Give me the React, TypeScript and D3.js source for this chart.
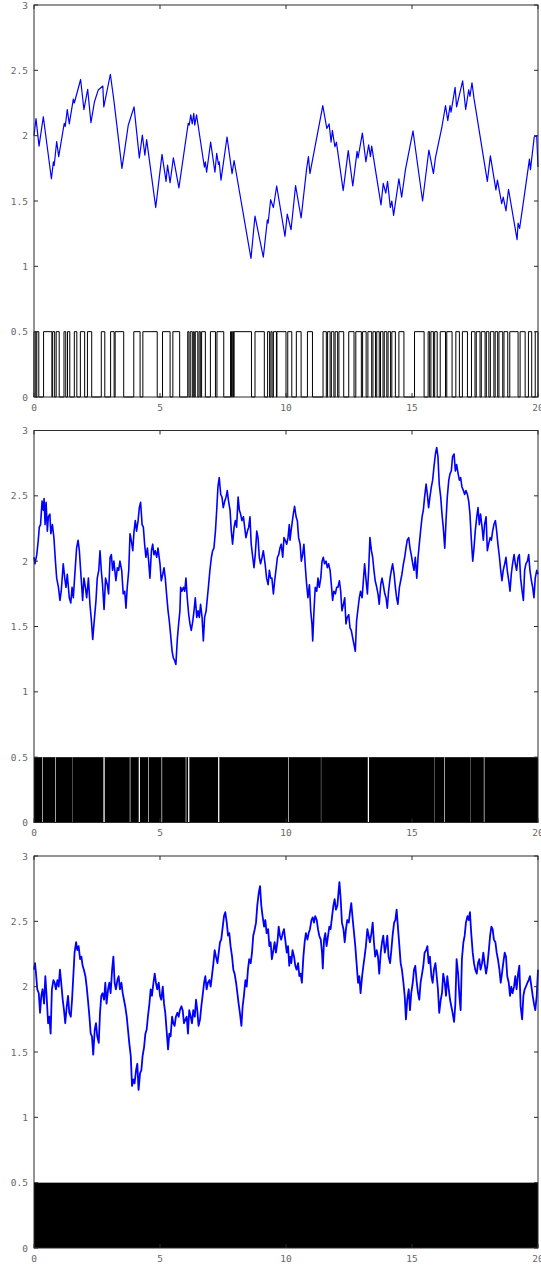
import React from 'react';
import * as d3 from 'd3';

// axis ticks shared by the three panels
const X_TICKS = [0, 5, 10, 15, 20];
const Y_TICKS = [0, 0.5, 1, 1.5, 2, 2.5, 3];

// panel 1: slow walk (turning points)
const walk1: [number, number][] = [
  [0, 2.0], [0.08, 2.13], [0.2, 1.92], [0.37, 2.145], [0.69, 1.67], [0.77, 1.8], [0.8, 1.77], [0.9, 1.955],
  [0.98, 1.84], [1.2, 2.095], [1.24, 2.07], [1.32, 2.2], [1.4, 2.09], [1.56, 2.28], [1.6, 2.25], [1.85, 2.43],
  [1.98, 2.2], [2.13, 2.355], [2.26, 2.1], [2.4, 2.26], [2.55, 2.35], [2.73, 2.38], [2.77, 2.22], [3.03, 2.47],
  [3.17, 2.27], [3.49, 1.75], [3.59, 1.88], [3.74, 2.08], [3.97, 2.22], [4.18, 1.83], [4.3, 2.005], [4.4, 1.85],
  [4.47, 1.97], [4.83, 1.45], [5.08, 1.857], [5.24, 1.65], [5.3, 1.775], [5.4, 1.64], [5.53, 1.83], [5.58, 1.78],
  [5.75, 1.6], [6.12, 2.095], [6.16, 2.08], [6.22, 2.16], [6.28, 2.09], [6.34, 2.17], [6.38, 2.08], [6.45, 2.16],
  [6.76, 1.76], [6.8, 1.8], [6.85, 1.72], [7.01, 1.95], [7.18, 1.72], [7.25, 1.865], [7.32, 1.78], [7.35, 1.8],
  [7.42, 1.66], [7.66, 1.99], [7.86, 1.71], [7.94, 1.81], [8.61, 1.06], [8.77, 1.385], [9.1, 1.07], [9.26, 1.355],
  [9.29, 1.33], [9.39, 1.51], [9.5, 1.45], [9.63, 1.615], [9.96, 1.23], [10.05, 1.4], [10.2, 1.28], [10.38, 1.617],
  [10.6, 1.37], [10.82, 1.75], [10.89, 1.84], [10.95, 1.71], [11.46, 2.23], [11.62, 2.055], [11.71, 2.09],
  [11.79, 1.95], [11.84, 2.04], [11.94, 1.915], [12.0, 1.95], [12.27, 1.58], [12.47, 1.885], [12.65, 1.615],
  [12.82, 1.88], [12.86, 1.83], [13.03, 2.02], [13.17, 1.8], [13.28, 1.93], [13.35, 1.84], [13.4, 1.92],
  [13.77, 1.47], [13.86, 1.635], [13.96, 1.56], [14.03, 1.65], [14.14, 1.45], [14.2, 1.5], [14.27, 1.39],
  [14.48, 1.67], [14.59, 1.53], [14.74, 1.74], [15.04, 2.036], [15.42, 1.5], [15.67, 1.89], [15.85, 1.71],
  [15.93, 1.83], [16.19, 2.07], [16.33, 2.23], [16.42, 2.115], [16.51, 2.23], [16.55, 2.18], [16.71, 2.37],
  [16.77, 2.22], [17.01, 2.42], [17.13, 2.2], [17.25, 2.35], [17.3, 2.3], [17.38, 2.405], [17.46, 2.285],
  [17.99, 1.65], [18.11, 1.845], [18.33, 1.585], [18.39, 1.66], [18.56, 1.48], [18.62, 1.53], [18.73, 1.425],
  [18.83, 1.59], [19.17, 1.205], [19.21, 1.33], [19.27, 1.29], [19.46, 1.545], [19.66, 1.82], [19.7, 1.74],
  [19.85, 1.99], [19.95, 2.0], [20, 1.76],
];

// panel 1: intervals where the two-state signal sits at 0.5
const high1: [number, number][] = [
  [0, 0.07], [0.11, 0.19], [0.38, 0.71], [0.74, 0.82], [0.88, 1.0], [1.19, 1.26], [1.33, 1.42], [1.6, 1.7],
  [1.84, 2.01], [2.12, 2.29], [2.67, 2.81], [3.04, 3.18], [3.22, 3.56], [3.96, 4.21], [4.32, 4.89], [5.1, 5.4],
  [5.51, 5.78], [6.1, 6.15], [6.2, 6.28], [6.32, 6.36], [6.4, 6.5], [6.55, 6.6], [6.65, 6.8], [7.0, 7.2],
  [7.26, 7.53], [7.8, 7.84], [7.87, 7.92], [7.94, 8.63], [8.77, 9.14], [9.27, 9.35], [9.4, 9.45], [9.5, 9.62],
  [9.64, 10.0], [10.07, 10.23], [10.41, 10.6], [10.85, 11.05], [11.47, 11.6], [11.65, 11.75], [11.8, 11.9],
  [11.95, 12.05], [12.1, 12.29], [12.49, 12.7], [12.77, 12.99], [13.04, 13.18], [13.25, 13.4], [13.45, 13.55],
  [13.6, 13.7], [13.75, 13.85], [13.9, 14.0], [14.05, 14.15], [14.2, 14.34], [14.48, 14.68], [15.1, 15.48],
  [15.64, 15.7], [15.75, 15.85], [15.9, 16.0], [16.12, 16.33], [16.38, 16.59], [16.74, 16.88], [17.0, 17.2],
  [17.36, 17.5], [17.55, 17.7], [17.75, 17.9], [17.95, 18.05], [18.11, 18.25], [18.3, 18.4], [18.45, 18.6],
  [18.65, 18.8], [18.88, 19.21], [19.29, 19.49], [19.62, 19.75], [19.89, 20],
];

// panel 2: faster walk
const walk2: [number, number][] = [
  [0, 2.03], [0.04, 1.98], [0.11, 2.05], [0.17, 2.16], [0.21, 2.26], [0.26, 2.28], [0.32, 2.46], [0.37, 2.39],
  [0.4, 2.48], [0.44, 2.28], [0.48, 2.45], [0.53, 2.23], [0.57, 2.34], [0.63, 2.36], [0.67, 2.21], [0.73, 2.28],
  [0.79, 2.18], [0.85, 2.0], [0.9, 1.87], [0.97, 1.8], [1.03, 1.7], [1.08, 1.77], [1.16, 1.98], [1.22, 1.87],
  [1.27, 1.8], [1.32, 1.9], [1.4, 1.72], [1.46, 1.68], [1.51, 1.8], [1.56, 1.72], [1.61, 1.87], [1.69, 2.1],
  [1.75, 2.16], [1.8, 2.08], [1.85, 1.93], [1.93, 1.7], [1.98, 1.87], [2.04, 1.8], [2.09, 1.72], [2.16, 1.87],
  [2.22, 1.67], [2.28, 1.54], [2.33, 1.4], [2.38, 1.52], [2.46, 1.7], [2.51, 1.87], [2.57, 1.93], [2.62, 2.08],
  [2.67, 1.93], [2.72, 1.82], [2.78, 1.63], [2.84, 1.87], [2.91, 1.82], [2.96, 1.75], [3.02, 2.03], [3.07, 2.05],
  [3.12, 1.93], [3.17, 2.0], [3.25, 1.85], [3.31, 1.95], [3.36, 1.93], [3.41, 2.0], [3.48, 1.93], [3.54, 1.75],
  [3.6, 1.77], [3.65, 1.64], [3.7, 1.8], [3.76, 1.93], [3.81, 2.21], [3.86, 2.16], [3.92, 2.08], [3.97, 2.23],
  [4.02, 2.31], [4.07, 2.23], [4.13, 2.31], [4.18, 2.41], [4.23, 2.45], [4.29, 2.28], [4.34, 2.26], [4.39, 2.13],
  [4.44, 2.03], [4.5, 2.1], [4.55, 2.0], [4.6, 1.87], [4.66, 2.08], [4.71, 2.13], [4.76, 2.05], [4.81, 2.08],
  [4.87, 2.03], [4.92, 2.1], [5.0, 1.98], [5.05, 1.85], [5.11, 1.9], [5.16, 1.95], [5.21, 1.87], [5.26, 1.75],
  [5.32, 1.62], [5.37, 1.54], [5.42, 1.44], [5.48, 1.31], [5.53, 1.26], [5.58, 1.24], [5.63, 1.21], [5.69, 1.41],
  [5.74, 1.52], [5.79, 1.62], [5.82, 1.8], [5.87, 1.77], [5.93, 1.8], [5.98, 1.77], [6.03, 1.87], [6.08, 1.72],
  [6.14, 1.59], [6.19, 1.52], [6.24, 1.47], [6.3, 1.54], [6.35, 1.62], [6.4, 1.72], [6.46, 1.57], [6.51, 1.62],
  [6.56, 1.57], [6.61, 1.67], [6.67, 1.57], [6.72, 1.39], [6.77, 1.57], [6.83, 1.62], [6.88, 1.72], [6.93, 1.82],
  [6.98, 1.93], [7.04, 2.03], [7.09, 2.08], [7.14, 2.1], [7.2, 2.23], [7.25, 2.39], [7.3, 2.57], [7.35, 2.64],
  [7.41, 2.51], [7.46, 2.49], [7.51, 2.41], [7.57, 2.46], [7.62, 2.49], [7.67, 2.54], [7.72, 2.46], [7.78, 2.39],
  [7.83, 2.23], [7.88, 2.13], [7.94, 2.26], [7.99, 2.31], [8.04, 2.26], [8.1, 2.49], [8.15, 2.39], [8.2, 2.36],
  [8.25, 2.31], [8.31, 2.34], [8.36, 2.26], [8.41, 2.18], [8.47, 2.23], [8.52, 2.26], [8.57, 2.34], [8.62, 2.13],
  [8.68, 2.03], [8.73, 1.95], [8.78, 2.05], [8.84, 2.23], [8.89, 2.18], [8.94, 2.03], [8.99, 1.98], [9.05, 2.03],
  [9.1, 2.08], [9.17, 1.98], [9.23, 1.87], [9.29, 1.82], [9.34, 1.93], [9.39, 1.87], [9.44, 1.87], [9.5, 1.75],
  [9.55, 1.85], [9.6, 1.93], [9.66, 2.03], [9.71, 2.05], [9.76, 2.1], [9.81, 2.13], [9.87, 2.03], [9.92, 2.18],
  [9.97, 2.16], [10.03, 2.13], [10.08, 2.18], [10.13, 2.28], [10.16, 2.16], [10.22, 2.26], [10.29, 2.36],
  [10.34, 2.42], [10.4, 2.34], [10.45, 2.31], [10.5, 2.18], [10.56, 2.13], [10.61, 2.0], [10.66, 2.05],
  [10.71, 2.13], [10.77, 1.95], [10.82, 1.82], [10.87, 1.72], [10.93, 1.82], [10.98, 1.62], [11.03, 1.52],
  [11.06, 1.39], [11.11, 1.62], [11.16, 1.8], [11.22, 1.77], [11.27, 1.87], [11.32, 1.8], [11.38, 1.87],
  [11.43, 2.0], [11.48, 2.03], [11.53, 1.98], [11.59, 2.0], [11.64, 1.95], [11.69, 1.98], [11.75, 1.93],
  [11.8, 1.82], [11.85, 1.7], [11.9, 1.77], [11.96, 1.75], [12.01, 1.8], [12.06, 1.8], [12.12, 1.85],
  [12.17, 1.77], [12.22, 1.62], [12.28, 1.67], [12.33, 1.72], [12.38, 1.52], [12.43, 1.57], [12.49, 1.59],
  [12.54, 1.49], [12.59, 1.47], [12.65, 1.41], [12.7, 1.36], [12.75, 1.31], [12.8, 1.54], [12.86, 1.64],
  [12.91, 1.72], [12.96, 1.77], [13.02, 1.72], [13.07, 1.85], [13.12, 1.98], [13.17, 1.87], [13.23, 1.75],
  [13.28, 1.93], [13.33, 2.18], [13.39, 2.08], [13.44, 2.03], [13.49, 1.93], [13.54, 1.85], [13.6, 1.8],
  [13.65, 1.75], [13.7, 1.67], [13.76, 1.82], [13.81, 1.87], [13.86, 1.82], [13.92, 1.75], [13.97, 1.72],
  [14.02, 1.64], [14.07, 1.77], [14.13, 1.87], [14.18, 1.93], [14.23, 1.98], [14.29, 1.9], [14.34, 1.8],
  [14.39, 1.72], [14.44, 1.67], [14.5, 1.8], [14.55, 1.85], [14.6, 1.9], [14.66, 1.98], [14.71, 2.03],
  [14.76, 2.1], [14.81, 2.16], [14.87, 2.18], [14.92, 2.1], [14.97, 2.05], [15.03, 1.98], [15.08, 1.93],
  [15.13, 2.03], [15.19, 1.87], [15.24, 2.03], [15.29, 2.13], [15.34, 2.23], [15.4, 2.34], [15.45, 2.39],
  [15.5, 2.49], [15.56, 2.59], [15.61, 2.51], [15.66, 2.41], [15.71, 2.49], [15.77, 2.57], [15.82, 2.62],
  [15.87, 2.72], [15.93, 2.82], [15.98, 2.87], [16.03, 2.8], [16.08, 2.59], [16.14, 2.49], [16.19, 2.36],
  [16.24, 2.26], [16.3, 2.1], [16.35, 2.31], [16.4, 2.49], [16.46, 2.62], [16.51, 2.67], [16.56, 2.69],
  [16.61, 2.8], [16.67, 2.82], [16.72, 2.69], [16.77, 2.74], [16.83, 2.67], [16.88, 2.62], [16.93, 2.64],
  [16.98, 2.57], [17.04, 2.54], [17.09, 2.51], [17.14, 2.54], [17.2, 2.51], [17.25, 2.46], [17.3, 2.36],
  [17.35, 2.18], [17.41, 2.0], [17.46, 2.1], [17.51, 2.23], [17.57, 2.34], [17.62, 2.41], [17.67, 2.28],
  [17.72, 2.36], [17.78, 2.26], [17.83, 2.16], [17.88, 2.28], [17.94, 2.34], [17.99, 2.08], [18.04, 2.13],
  [18.1, 2.18], [18.15, 2.16], [18.2, 2.23], [18.25, 2.28], [18.31, 2.31], [18.36, 2.23], [18.41, 2.13],
  [18.47, 2.03], [18.52, 1.93], [18.57, 1.85], [18.62, 1.93], [18.68, 1.98], [18.73, 2.03], [18.78, 1.93],
  [18.84, 1.85], [18.89, 1.77], [18.94, 1.9], [18.99, 1.98], [19.05, 2.05], [19.1, 1.98], [19.15, 1.93],
  [19.21, 2.03], [19.26, 2.05], [19.31, 1.87], [19.37, 1.77], [19.42, 1.7], [19.47, 1.93], [19.52, 1.98],
  [19.58, 2.0], [19.63, 2.05], [19.68, 1.93], [19.74, 1.85], [19.79, 1.8], [19.84, 1.72], [19.89, 1.87],
  [19.95, 1.93], [20, 1.9],
];

// panel 2: the signal switches too fast to resolve, except in these short holds
const gaps2: [number, number][] = [
  [0.33, 0.355], [0.84, 0.865], [1.535, 1.547], [2.755, 2.805], [3.8, 3.825], [4.155, 4.205], [4.53, 4.555],
  [5.06, 5.085], [6.02, 6.045], [6.115, 6.165], [7.305, 7.355], [10.08, 10.105], [11.385, 11.397],
  [13.245, 13.295], [15.885, 15.897], [16.27, 16.295], [17.325, 17.337], [17.85, 17.875],
];

// panel 3: fastest walk
const walk3: [number, number][] = [
  [0, 2.13], [0.04, 2.18], [0.08, 2.1], [0.13, 1.98], [0.19, 1.95], [0.24, 1.8], [0.29, 1.93], [0.34, 1.98],
  [0.4, 1.87], [0.45, 2.08], [0.5, 1.93], [0.56, 1.72], [0.61, 1.77], [0.66, 1.64], [0.71, 1.98], [0.77, 2.05],
  [0.82, 2.03], [0.87, 1.98], [0.93, 2.05], [0.98, 2.0], [1.03, 2.13], [1.08, 2.03], [1.14, 1.9], [1.19, 1.82],
  [1.24, 1.72], [1.3, 1.85], [1.35, 1.93], [1.4, 1.8], [1.46, 1.77], [1.51, 1.9], [1.56, 2.08], [1.61, 2.26],
  [1.67, 2.34], [1.72, 2.28], [1.77, 2.31], [1.83, 2.21], [1.88, 2.23], [1.93, 2.16], [1.98, 2.13], [2.04, 2.08],
  [2.09, 2.0], [2.14, 1.9], [2.2, 1.77], [2.25, 1.64], [2.3, 1.62], [2.35, 1.48], [2.41, 1.67], [2.46, 1.72],
  [2.51, 1.62], [2.57, 1.57], [2.62, 1.8], [2.67, 1.93], [2.72, 1.95], [2.78, 1.9], [2.83, 2.03], [2.88, 1.87],
  [2.94, 1.98], [2.99, 2.03], [3.04, 1.95], [3.1, 2.13], [3.15, 2.23], [3.2, 2.03], [3.25, 1.98], [3.31, 2.05],
  [3.36, 2.08], [3.41, 1.98], [3.47, 2.03], [3.52, 1.95], [3.57, 1.9], [3.62, 1.85], [3.68, 1.77], [3.73, 1.67],
  [3.78, 1.57], [3.84, 1.47], [3.89, 1.24], [3.94, 1.29], [3.99, 1.26], [4.05, 1.36], [4.1, 1.41], [4.15, 1.21],
  [4.21, 1.34], [4.26, 1.36], [4.31, 1.47], [4.37, 1.54], [4.42, 1.64], [4.47, 1.67], [4.52, 1.77], [4.58, 1.87],
  [4.63, 1.98], [4.68, 1.93], [4.74, 2.03], [4.79, 2.1], [4.84, 2.03], [4.89, 1.98], [4.95, 2.03], [5.0, 1.93],
  [5.05, 1.9], [5.11, 2.0], [5.16, 1.87], [5.21, 1.8], [5.26, 1.67], [5.32, 1.52], [5.37, 1.64], [5.42, 1.62],
  [5.48, 1.77], [5.53, 1.72], [5.58, 1.7], [5.63, 1.77], [5.69, 1.8], [5.74, 1.77], [5.79, 1.82], [5.85, 1.85],
  [5.9, 1.82], [5.95, 1.72], [6.01, 1.75], [6.06, 1.77], [6.11, 1.64], [6.16, 1.82], [6.22, 1.77], [6.27, 1.72],
  [6.32, 1.82], [6.38, 1.77], [6.43, 1.9], [6.48, 1.82], [6.53, 1.7], [6.59, 1.75], [6.64, 1.85], [6.69, 1.93],
  [6.75, 2.03], [6.8, 2.08], [6.85, 1.98], [6.9, 2.03], [6.96, 2.05], [7.01, 2.0], [7.06, 2.08], [7.12, 2.18],
  [7.17, 2.28], [7.22, 2.23], [7.28, 2.18], [7.33, 2.26], [7.38, 2.34], [7.43, 2.36], [7.49, 2.46], [7.54, 2.54],
  [7.59, 2.57], [7.65, 2.49], [7.7, 2.39], [7.75, 2.41], [7.8, 2.31], [7.86, 2.23], [7.91, 2.13], [7.96, 2.1],
  [8.02, 2.03], [8.07, 1.95], [8.12, 1.87], [8.17, 1.8], [8.23, 1.7], [8.28, 1.85], [8.33, 1.93], [8.39, 2.05],
  [8.44, 2.0], [8.49, 2.13], [8.54, 2.21], [8.6, 2.18], [8.65, 2.26], [8.7, 2.39], [8.76, 2.44], [8.81, 2.49],
  [8.86, 2.62], [8.92, 2.72], [8.97, 2.77], [9.02, 2.62], [9.07, 2.54], [9.13, 2.46], [9.18, 2.51], [9.23, 2.41],
  [9.29, 2.44], [9.34, 2.31], [9.39, 2.34], [9.44, 2.21], [9.5, 2.28], [9.55, 2.34], [9.6, 2.26], [9.66, 2.34],
  [9.71, 2.46], [9.76, 2.39], [9.81, 2.36], [9.87, 2.41], [9.92, 2.44], [9.97, 2.36], [10.03, 2.26],
  [10.08, 2.31], [10.13, 2.16], [10.16, 2.23], [10.21, 2.18], [10.26, 2.28], [10.32, 2.23], [10.37, 2.16],
  [10.42, 2.13], [10.48, 2.18], [10.53, 2.08], [10.58, 2.1], [10.63, 2.03], [10.69, 2.23], [10.74, 2.34],
  [10.79, 2.41], [10.85, 2.36], [10.9, 2.41], [10.95, 2.44], [11.01, 2.51], [11.06, 2.53], [11.11, 2.49],
  [11.16, 2.54], [11.22, 2.51], [11.27, 2.44], [11.32, 2.39], [11.38, 2.36], [11.43, 2.26], [11.46, 2.14],
  [11.51, 2.36], [11.56, 2.41], [11.61, 2.31], [11.67, 2.39], [11.72, 2.46], [11.77, 2.44], [11.83, 2.54],
  [11.88, 2.62], [11.93, 2.67], [11.98, 2.59], [12.04, 2.62], [12.09, 2.74], [12.12, 2.8], [12.17, 2.67],
  [12.22, 2.49], [12.28, 2.44], [12.33, 2.34], [12.38, 2.44], [12.43, 2.51], [12.49, 2.49], [12.54, 2.57],
  [12.59, 2.64], [12.65, 2.51], [12.7, 2.41], [12.75, 2.31], [12.8, 2.18], [12.86, 2.03], [12.91, 2.08],
  [12.96, 1.95], [13.02, 2.08], [13.07, 2.16], [13.12, 2.23], [13.17, 2.31], [13.23, 2.44], [13.28, 2.39],
  [13.33, 2.34], [13.39, 2.41], [13.44, 2.49], [13.49, 2.34], [13.54, 2.23], [13.6, 2.28], [13.65, 2.23],
  [13.7, 2.1], [13.76, 2.26], [13.81, 2.34], [13.86, 2.39], [13.92, 2.26], [13.97, 2.31], [14.02, 2.39],
  [14.07, 2.23], [14.13, 2.18], [14.18, 2.28], [14.23, 2.39], [14.29, 2.49], [14.34, 2.51], [14.39, 2.59],
  [14.44, 2.46], [14.5, 2.31], [14.55, 2.18], [14.6, 2.13], [14.66, 2.03], [14.71, 1.93], [14.76, 1.75],
  [14.81, 1.9], [14.87, 1.98], [14.92, 1.82], [14.97, 1.95], [15.03, 2.03], [15.08, 2.13], [15.13, 2.16],
  [15.19, 2.03], [15.24, 1.95], [15.29, 1.9], [15.34, 2.03], [15.4, 2.1], [15.45, 2.16], [15.5, 2.26],
  [15.56, 2.28], [15.61, 2.31], [15.66, 2.18], [15.71, 2.23], [15.77, 2.08], [15.82, 2.03], [15.87, 2.13],
  [15.93, 2.18], [15.98, 2.08], [16.03, 1.98], [16.08, 1.8], [16.14, 1.9], [16.19, 1.95], [16.24, 2.1],
  [16.3, 2.03], [16.35, 1.93], [16.4, 2.08], [16.46, 1.98], [16.51, 1.9], [16.56, 1.85], [16.61, 1.8],
  [16.67, 1.73], [16.72, 1.87], [16.77, 2.21], [16.83, 2.1], [16.88, 1.93], [16.93, 1.82], [16.98, 2.21],
  [17.04, 2.34], [17.09, 2.39], [17.14, 2.49], [17.2, 2.54], [17.25, 2.51], [17.3, 2.57], [17.35, 2.41],
  [17.41, 2.26], [17.46, 2.18], [17.51, 2.13], [17.57, 2.1], [17.62, 2.18], [17.67, 2.21], [17.72, 2.13],
  [17.78, 2.18], [17.83, 2.26], [17.88, 2.18], [17.94, 2.1], [17.99, 2.16], [18.04, 2.26], [18.1, 2.39],
  [18.15, 2.46], [18.2, 2.44], [18.25, 2.36], [18.31, 2.34], [18.36, 2.26], [18.41, 2.21], [18.47, 2.13],
  [18.52, 2.03], [18.57, 2.1], [18.62, 2.18], [18.68, 2.26], [18.73, 2.23], [18.78, 2.08], [18.84, 2.03],
  [18.89, 1.93], [18.94, 2.0], [18.99, 1.95], [19.05, 2.0], [19.1, 2.08], [19.15, 1.98], [19.21, 2.1],
  [19.26, 2.16], [19.31, 1.85], [19.37, 1.75], [19.42, 1.93], [19.47, 1.98], [19.52, 2.0], [19.58, 2.03],
  [19.63, 2.05], [19.68, 2.08], [19.74, 2.0], [19.79, 1.93], [19.84, 1.87], [19.89, 1.82], [19.95, 1.93],
  [20, 2.13],
];

const W = 541;
const H = 1265;
const LEFT = 34;
const RIGHT = 538;
const PANEL_H = 392;
const TOPS = [5, 430.5, 856];
const TICK = 4;
const AXIS = '#2b2b2b';
const LABEL = '#666';

type Pt = [number, number];

function stepPath(high: [number, number][]): Pt[] {
  const pts: Pt[] = [[0, 0]];
  high.forEach(([a, b]) => {
    pts.push([a, 0], [a, 0.5], [b, 0.5], [b, 0]);
  });
  pts.push([20, 0]);
  return pts;
}

function Panel({ top, walk, high, gaps, solid, lineWidth }: {
  top: number; walk: Pt[]; high?: [number, number][]; gaps?: [number, number][]; solid?: boolean; lineWidth: number;
}) {
  const x = d3.scaleLinear().domain([0, 20]).range([LEFT, RIGHT]);
  const y = d3.scaleLinear().domain([0, 3]).range([top + PANEL_H, top]);
  const line = d3.line<Pt>().x(d => x(d[0])).y(d => y(d[1]));
  const bottom = top + PANEL_H;

  return (
    <g>
      {solid && (
        <rect x={x(0)} y={y(0.5)} width={x(20) - x(0)} height={y(0) - y(0.5)} fill="#000" />
      )}
      {gaps && gaps.map(([a, b], i) => (
        <rect key={i} x={x(a)} y={y(0.5)} width={x(b) - x(a)} height={y(0) - y(0.5)} fill="#fff" />
      ))}
      {high && (
        <path d={line(stepPath(high)) || ''} fill="none" stroke="#000" strokeWidth={1} />
      )}
      <path d={line(walk) || ''} fill="none" stroke="#0000ff" strokeWidth={lineWidth}
        strokeLinejoin="round" />

      <rect x={LEFT} y={top} width={RIGHT - LEFT} height={PANEL_H} fill="none" stroke={AXIS} strokeWidth={1} />
      {X_TICKS.map(t => (
        <g key={'x' + t}>
          <line x1={x(t)} x2={x(t)} y1={top} y2={top + TICK} stroke={AXIS} />
          <line x1={x(t)} x2={x(t)} y1={bottom} y2={bottom - TICK} stroke={AXIS} />
          <text x={x(t)} y={bottom + 10} textAnchor="middle" dominantBaseline="central"
            fontSize={9.5} fill={LABEL} fontFamily="DejaVu Sans Mono">{t}</text>
        </g>
      ))}
      {Y_TICKS.map(t => (
        <g key={'y' + t}>
          <line x1={LEFT} x2={LEFT + TICK} y1={y(t)} y2={y(t)} stroke={AXIS} />
          <line x1={RIGHT} x2={RIGHT - TICK} y1={y(t)} y2={y(t)} stroke={AXIS} />
          <text x={LEFT - 6} y={y(t)} textAnchor="end" dominantBaseline="central"
            fontSize={9.5} fill={LABEL} fontFamily="DejaVu Sans Mono">{t}</text>
        </g>
      ))}
    </g>
  );
}

export default function App() {
  return (
    <svg width={W} height={H} style={{ position: 'absolute', left: 0, top: 0, background: '#fff' }}>
      <Panel top={TOPS[0]} walk={walk1} high={high1} lineWidth={1.2} />
      <Panel top={TOPS[1]} walk={walk2} gaps={gaps2} solid lineWidth={1.6} />
      <Panel top={TOPS[2]} walk={walk3} solid lineWidth={1.8} />
    </svg>
  );
}
